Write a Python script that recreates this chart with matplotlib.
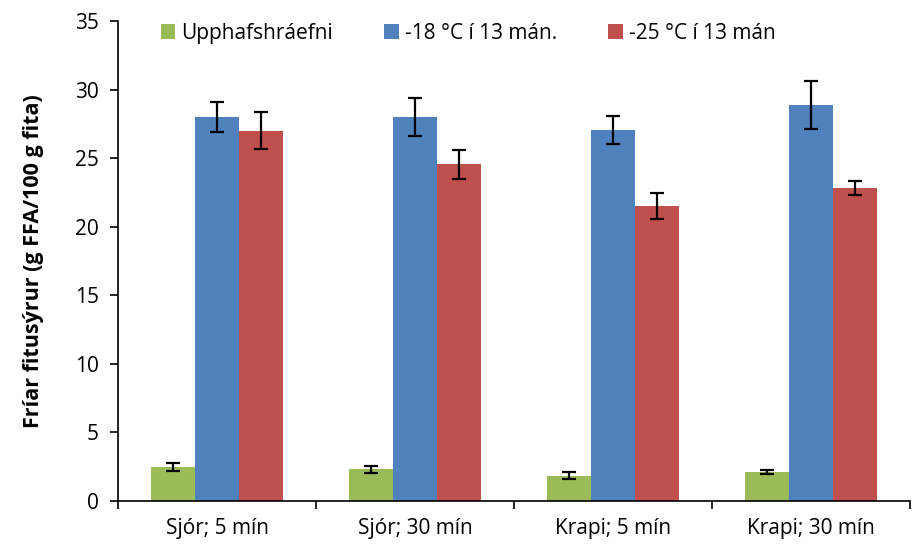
import matplotlib
matplotlib.use("Agg")
import matplotlib.pyplot as plt
import numpy as np

categories = ["Sjór; 5 mín", "Sjór; 30 mín", "Krapi; 5 mín", "Krapi; 30 mín"]
series_names = ["Upphafshráefni", "-18 °C í 13 mán.", "-25 °C í 13 mán"]
initial = [2.5, 2.3, 1.85, 2.1]
initial_err = [0.3, 0.25, 0.25, 0.15]
m18 = [28.0, 28.0, 27.05, 28.85]
m18_err = [1.1, 1.4, 1.0, 1.75]
m25 = [27.0, 24.55, 21.5, 22.8]
m25_err = [1.35, 1.05, 0.95, 0.5]
colors = ["#9BBB59", "#4F81BD", "#C0504D"]

plt.rcParams['font.family'] = ['Open Sans', 'DejaVu Sans']

fig = plt.figure(figsize=(9.15, 5.48), dpi=100)
ax = fig.add_axes([0.129, 0.0858, 0.8655, 0.8759])

x = np.arange(len(categories))
w = 1 / 4.5
vals = [initial, m18, m25]
errs = [initial_err, m18_err, m25_err]
for i, (v, e, c, n) in enumerate(zip(vals, errs, colors, series_names)):
    ax.bar(x + (i - 1) * w, v, width=w, color=c, label=n,
           yerr=e, error_kw=dict(ecolor="black", elinewidth=1.6, capsize=5, capthick=1.6))

ax.set_xlim(-0.5, len(categories) - 0.5)
ax.set_ylim(0, 35)
ax.set_yticks(range(0, 36, 5))
ax.set_xticks(x)
ax.set_xticklabels(categories, fontsize=15)
ax.set_xticks(np.arange(-0.5, len(categories), 1), minor=True)
ax.tick_params(axis='x', which='major', length=0, pad=12)
ax.tick_params(axis='x', which='minor', length=6, width=1.2, direction='out')
ax.tick_params(axis='y', labelsize=15, length=6, width=1.2, direction='out', pad=8)
for s in ["top", "right"]:
    ax.spines[s].set_visible(False)
for s in ["left", "bottom"]:
    ax.spines[s].set_linewidth(1.2)
ax.set_ylabel("Fríar fitusýrur (g FFA/100 g fita)", fontsize=15.5, fontweight='bold', labelpad=22)

leg = ax.legend(loc='upper left', bbox_to_anchor=(0.03, 1.035), ncol=3, frameon=False,
                fontsize=15, handlelength=0.7, handleheight=0.7, handletextpad=0.3,
                columnspacing=2.45)

fig.savefig("out.png", dpi=100)
